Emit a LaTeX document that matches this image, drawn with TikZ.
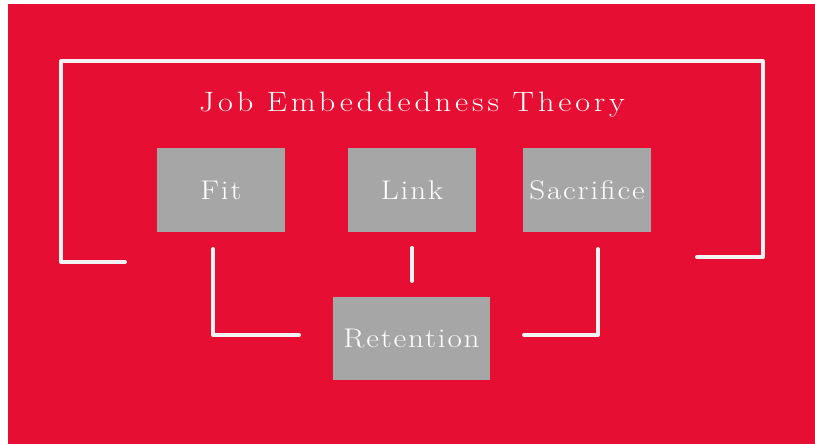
\documentclass[tikz,border=0pt]{standalone}
\usepackage{fontspec}
\setmainfont{Latin Modern Roman}
\usepackage{graphicx}
\usepackage{tikz}
\usetikzlibrary{positioning}
\usetikzlibrary{calc}
\usetikzlibrary{backgrounds}
\definecolor{bgred}{HTML}{E60F33}
\definecolor{boxgray}{HTML}{A6A6A6}
\definecolor{linewhite}{HTML}{F2F2F2}
% wide, tracked lettering
\newcommand{\widetext}[2]{\scalebox{1.15}[1]{\addfontfeature{LetterSpace=#1}#2}}
\tikzset{factor/.style={fill=boxgray, text=white, minimum width=128pt, minimum height=84pt, inner sep=0pt, font=\fontsize{27}{30}\selectfont},
  link line/.style={draw=linewhite, line width=4pt, line cap=round, line join=round}}

\begin{document}
\begin{tikzpicture}[x=1pt, y=-1pt]
\useasboundingbox (0,0) rectangle (815,444);
\fill [bgred] (8,4) rectangle (815,444);
\node (title) [text=white, font=\fontsize{28}{30}\selectfont] at (412,105) {\widetext{12}{Job Embeddedness Theory}};
\node (fit) [factor] at (221,190) {\widetext{6}{Fit}};
\node (link) [factor] at (412,190) {\widetext{6}{Link}};
\node (sac) [factor] at (587,190) {\widetext{6}{Sacrifice}};
\node (ret) [factor, minimum width=157pt, minimum height=83pt] at (411.5,338.5) {\widetext{6}{Retention}};
% frame round the title and the three factors
\coordinate (fr1) at (125,262);
\coordinate (fr2) at (697,257);
\draw [link line] (fr1) -- (61,262) -- (61,61) -- (763,61) -- (763,257) -- (fr2);
% lines from the factors down to retention
\coordinate (fit a) at (213,249);
\coordinate (fit b) at (299,335);
\coordinate (link a) at (412,248);
\coordinate (link b) at (412,281);
\coordinate (sac a) at (598,249);
\coordinate (sac b) at (524,335);
\draw [link line] (fit a) |- (fit b);
\draw [link line] (link a) -- (link b);
\draw [link line] (sac a) |- (sac b);
\end{tikzpicture}
\end{document}
